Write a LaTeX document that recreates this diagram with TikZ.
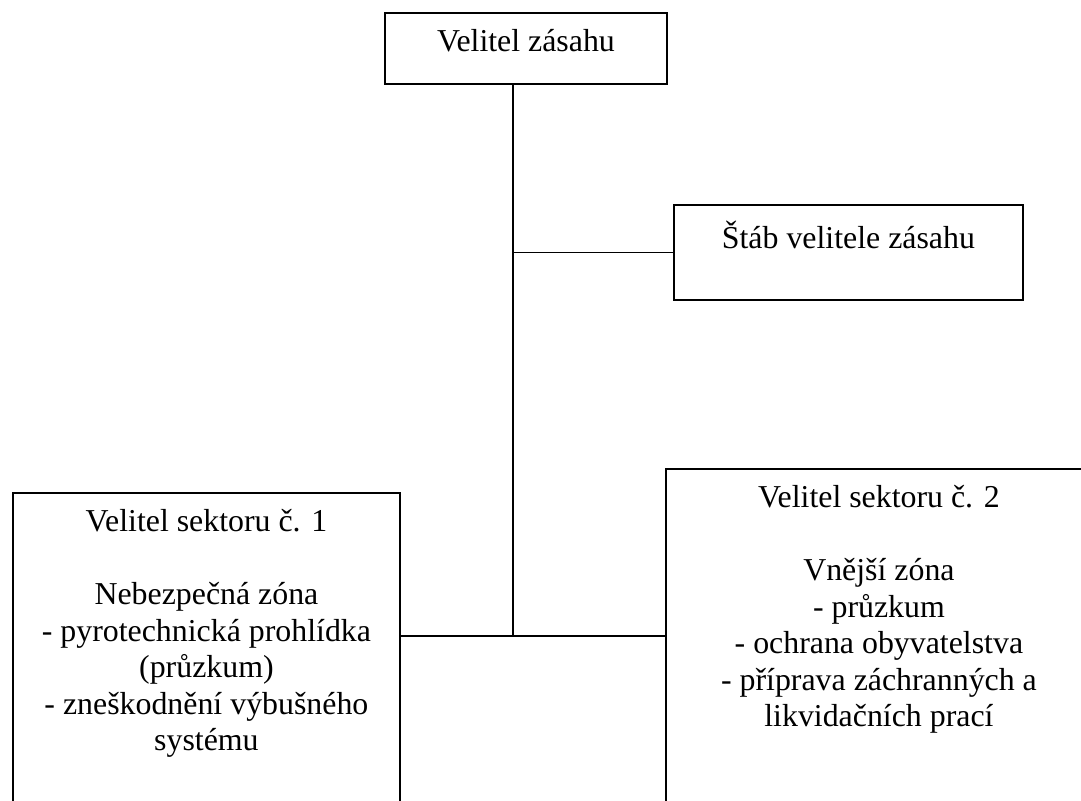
\documentclass[tikz,border=0pt]{standalone}
\usepackage{fontspec}
\setmainfont{Liberation Serif}
\usetikzlibrary{calc}

\tikzset{
    orgbox/.style={draw, line width=1.4pt, inner sep=0pt, anchor=north west,
        font=\fontsize{23.9pt}{27.4pt}\selectfont},
    link/.style={line width=1.4pt},
}
% box text: width, height, lines
\newcommand{\boxtext}[3]{\parbox[c][#2][t]{#1}{\centering\vspace*{12.5pt}#3}}

\begin{document}
\begin{tikzpicture}[x=0.75pt, y=-0.75pt]
        \path[use as bounding box, clip] (0,0) rectangle (1081,800);

        \node[orgbox] (cmd) at (384,12) {\boxtext{211.5pt}{53.25pt}{Velitel zásahu}};
        \node[orgbox] (staff) at (673,204) {\boxtext{261.75pt}{71.25pt}{Štáb velitele zásahu}};
        \node[orgbox] (sec1) at (12,492) {\boxtext{290.25pt}{300pt}{%
            Velitel sektoru č. 1\\[27.4pt]
            Nebezpečná zóna\\
            - pyrotechnická prohlídka\\
            (průzkum)\\
            - zneškodnění výbušného\\
            systému}};
        \node[orgbox] (sec2) at (665,468) {\boxtext{319.5pt}{300pt}{%
            Velitel sektoru č. 2\\[27.4pt]
            Vnější zóna\\
            - průzkum\\
            - ochrana obyvatelstva\\
            - příprava záchranných a\\
            likvidačních prací}};

        \coordinate (spine) at (513,636);

        \draw[link] (spine |- cmd.south) -- (spine);
        \draw[link] (spine |- staff.west) -- (staff.west);
        \draw[link] (sec1.east |- spine) -- (sec2.west |- spine);
    \end{tikzpicture}
\end{document}
